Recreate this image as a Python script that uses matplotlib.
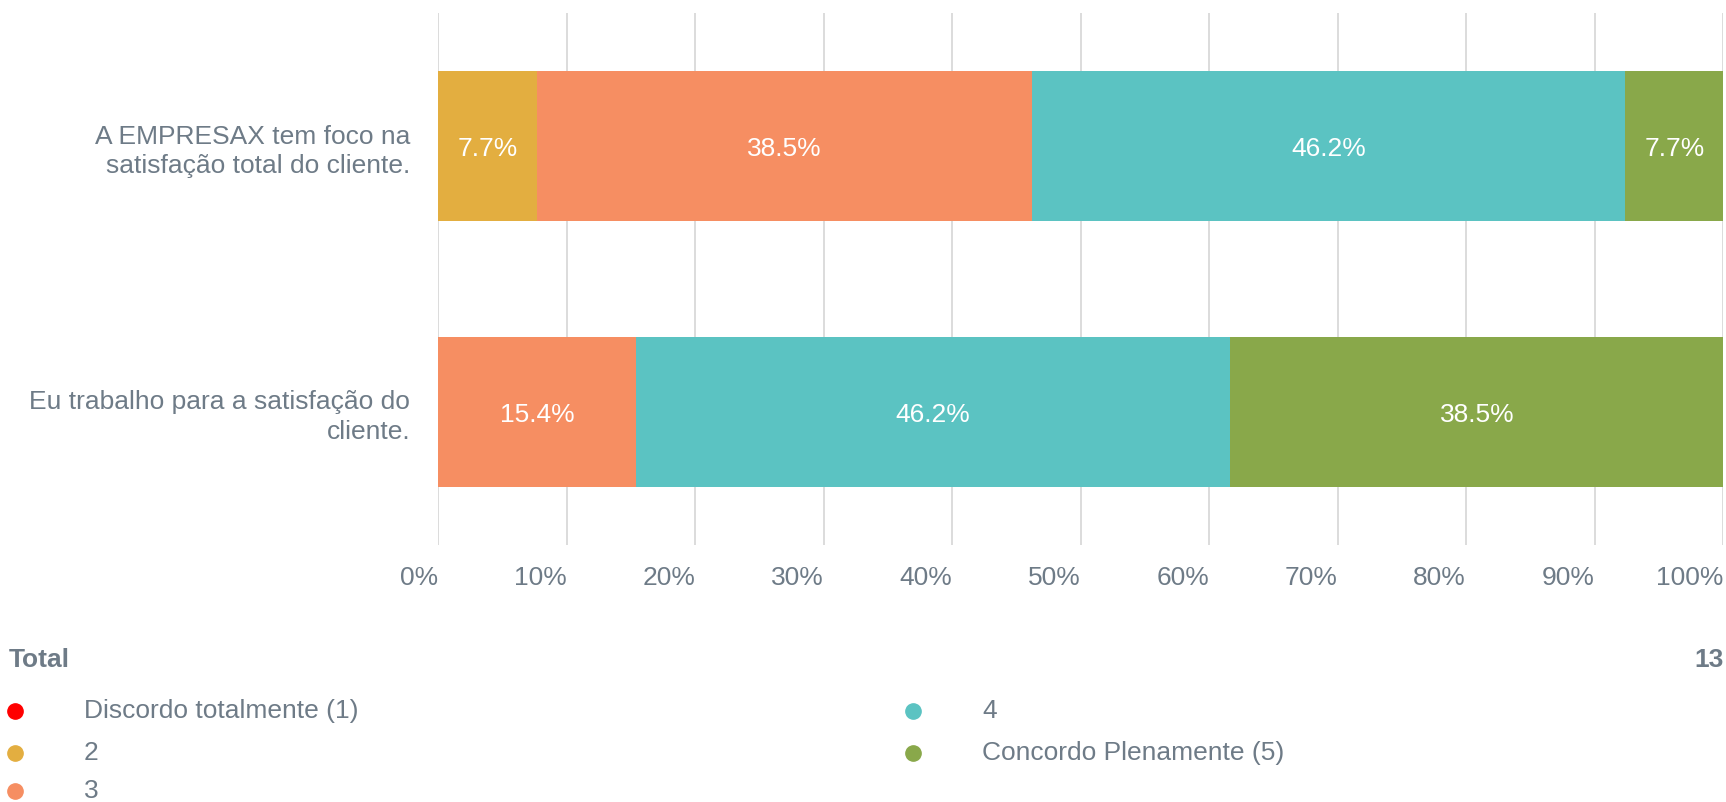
import numpy as np
import matplotlib
matplotlib.use('Agg')
import matplotlib.pyplot as plt

plt.rcParams['font.family'] = ['Liberation Sans', 'DejaVu Sans']

# dados
categorias = ['A EMPRESAX tem foco na\nsatisfação total do cliente.',
              'Eu trabalho para a satisfação do\ncliente.']
respostas = ['Discordo totalmente (1)', '2', '3', '4', 'Concordo Plenamente (5)']
cores = ['#FF0000', '#E3AE40', '#F68E62', '#5BC3C2', '#89A84A']
# percentuais por resposta (1..5) para cada pergunta
valores = [
    [0.0, 7.7, 38.5, 46.2, 7.7],
    [0.0, 0.0, 15.4, 46.2, 38.5],
]
total = 13
ticks = np.arange(0, 101, 10)

cinza = '#6E7B87'
fs = 19

fig = plt.figure(figsize=(17.26, 8.02), dpi=100)
ax = fig.add_axes([438 / 1726, 1 - 545 / 802, (1723 - 438) / 1726, (545 - 13) / 802])

y = np.arange(len(categorias))
esquerda = np.zeros(len(categorias))
vals = np.array(valores)
for j in range(len(respostas)):
    w = vals[:, j]
    ax.barh(y, w, left=esquerda, height=0.566, color=cores[j], zorder=2)
    for i in range(len(categorias)):
        if w[i] > 0:
            ax.text(esquerda[i] + w[i] / 2, y[i] + 0.01, '%.1f%%' % w[i], ha='center', va='center',
                    color='white', fontsize=fs, zorder=3)
    esquerda = esquerda + w

ax.set_xlim(0, 100)
ax.set_ylim(1.5, -0.5)
ax.set_xticks(ticks)
ax.set_xticklabels(['%d%%' % t for t in ticks], ha='right')
ax.set_yticks(y)
ax.set_yticklabels(categorias, ha='right', multialignment='right', linespacing=1.3)
ax.tick_params(axis='both', length=0, labelsize=fs, labelcolor=cinza)
ax.tick_params(axis='x', pad=15)
ax.tick_params(axis='y', pad=20)
ax.grid(axis='x', color='#D6D6D6', linewidth=1.2, zorder=0)
for s in ax.spines.values():
    s.set_visible(False)

# legenda
leg = fig.add_axes([0, 0, 1, 1])
leg.set_xlim(0, 1726)
leg.set_ylim(802, 0)
leg.axis('off')
leg.text(9, 660, 'Total', fontsize=fs, fontweight='bold', color=cinza, va='center')
leg.text(1724, 660, str(total), fontsize=fs, fontweight='bold', color=cinza, va='center', ha='right')
pos = [(15, 711), (15, 753), (15, 791), (913, 711), (913, 753)]
for j, nome in enumerate(respostas):
    px, py = pos[j]
    leg.plot(px, py, 'o', color=cores[j], markersize=11)
    leg.text(px + 69, py, nome, fontsize=fs, color=cinza, va='center')

fig.savefig('out.png', dpi=100)
